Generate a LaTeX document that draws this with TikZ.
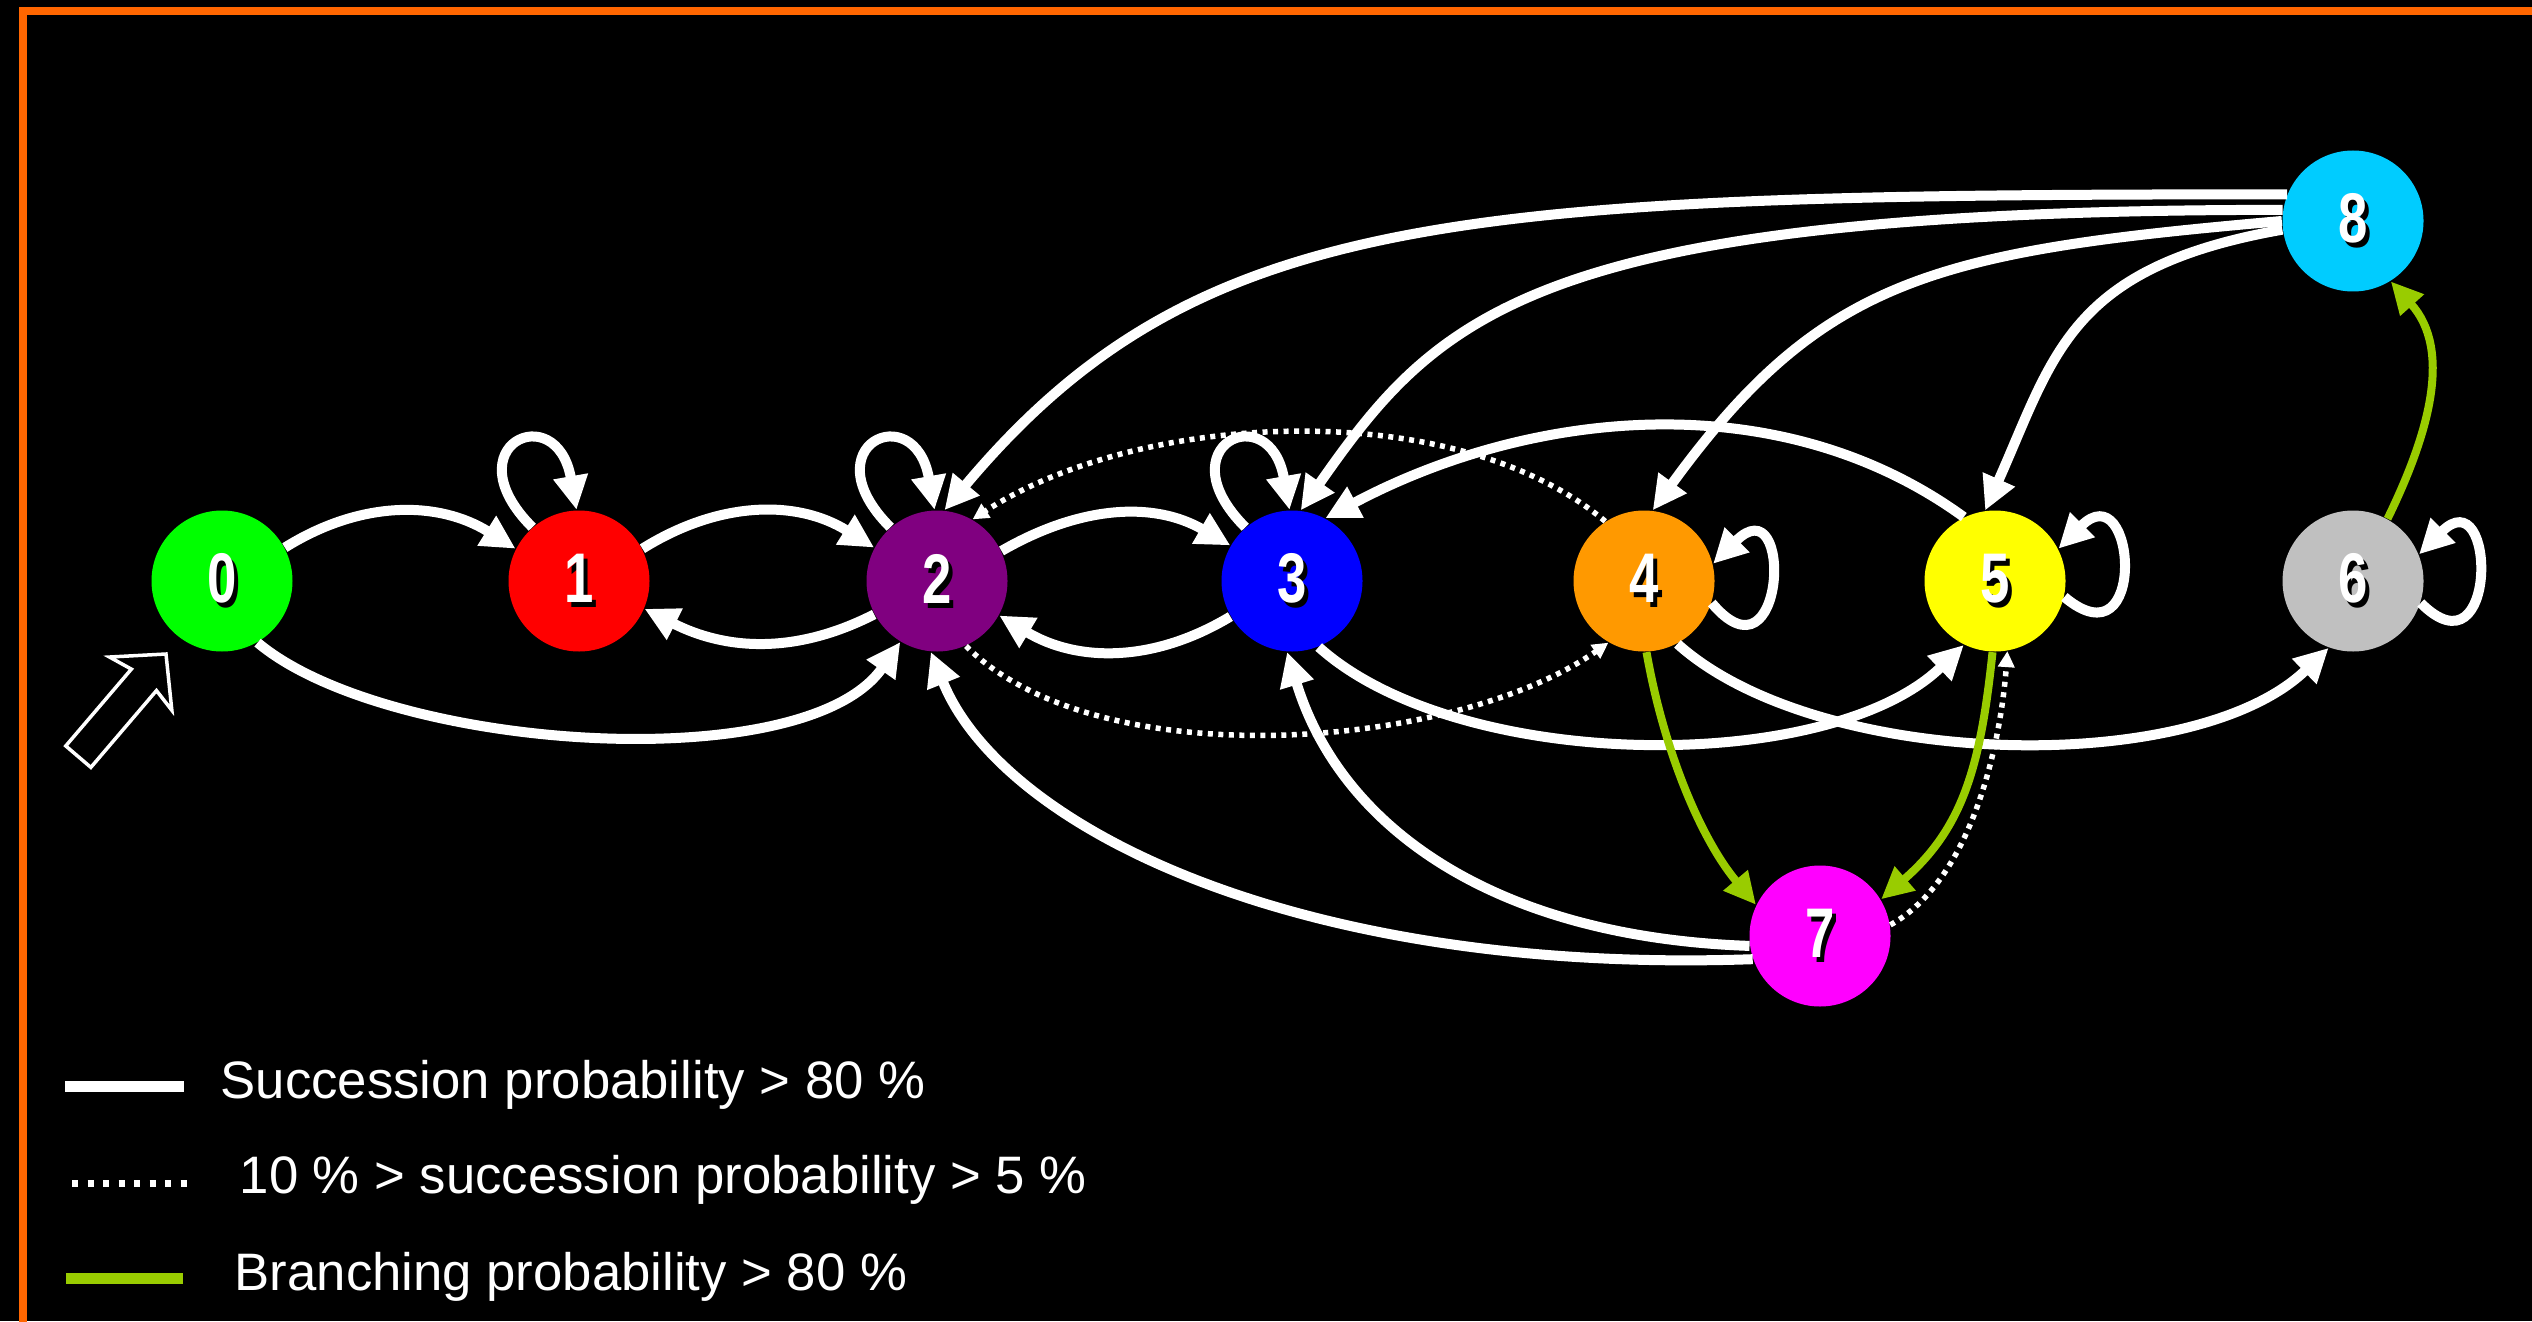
\documentclass[tikz,border=0pt]{standalone}
\usepackage{fontspec}
\setmainfont{Liberation Sans}
\usepackage{graphicx}
\usetikzlibrary{arrows.meta}
\definecolor{frameorange}{HTML}{FF6600}
\definecolor{branchgreen}{HTML}{99CC00}
\definecolor{szero}{HTML}{00FF00}
\definecolor{sone}{HTML}{FF0000}
\definecolor{stwo}{HTML}{800080}
\definecolor{sthree}{HTML}{0000FF}
\definecolor{sfour}{HTML}{FF9900}
\definecolor{sfive}{HTML}{FFFF00}
\definecolor{ssix}{HTML}{C0C0C0}
\definecolor{sseven}{HTML}{FF00FF}
\definecolor{seight}{HTML}{00CCFF}
\newcommand{\statelabel}[1]{\scalebox{0.75}[1]{\fontsize{20}{20}\selectfont\bfseries\rlap{\hspace{0.05cm}\raisebox{-0.05cm}{\color{black}#1}}#1}}

\begin{document}
\begin{tikzpicture}[
    state/.style={circle, minimum size=1.41cm, inner sep=0pt, text=white},
    succ/.style={white, line width=0.1cm, -{Triangle[length=0.34cm,width=0.33cm]}},
    rare/.style={white, line width=0.055cm, dash pattern=on 0.05cm off 0.055cm, -{Triangle[length=0.16cm,width=0.16cm]}},
    branch/.style={branchgreen, line width=0.08cm, -{Triangle[length=0.32cm,width=0.30cm]}},
    legendtext/.style={anchor=base west, inner sep=0pt, text=white, font=\fontsize{15}{18}\selectfont}]
                \useasboundingbox (0,0) rectangle (25.32,13.21);
                \fill[black] (0,0) rectangle (25.32,13.21);
                \draw[frameorange, line width=0.08cm] (0.23,-0.1) -- (0.23,13.095) -- (25.42,13.095);

                \node[state, fill=szero] (n0) at (2.22,7.40) {\statelabel{0}};
                \node[state, fill=sone] (n1) at (5.79,7.40) {\statelabel{1}};
                \node[state, fill=stwo] (n2) at (9.37,7.40) {\statelabel{2}};
                \node[state, fill=sthree] (n3) at (12.92,7.40) {\statelabel{3}};
                \node[state, fill=sfour] (n4) at (16.44,7.40) {\statelabel{4}};
                \node[state, fill=sfive] (n5) at (19.95,7.40) {\statelabel{5}};
                \node[state, fill=ssix] (n6) at (23.53,7.40) {\statelabel{6}};
                \node[state, fill=sseven] (n7) at (18.20,3.85) {\statelabel{7}};
                \node[state, fill=seight] (n8) at (23.53,11.00) {\statelabel{8}};

                \draw[succ] (n0.28) to[out=32,in=148] (n1.153);
                \draw[succ] (n0.-60) to[out=-40,in=-125,distance=1.68cm] (n2.-121);
                \draw[succ] (n1.131) to[out=135,in=100,distance=1.15cm] (n1.92);
                \draw[succ] (n1.27) to[out=32,in=148] (n2.152);
                \draw[succ] (n2.208) to[out=-153,in=-27] (n1.-23);
                \draw[succ] (n2.131) to[out=135,in=100,distance=1.15cm] (n2.92);
                \draw[succ] (n2.25) to[out=30,in=150] (n3.150);
                \draw[succ] (n3.210) to[out=-149,in=-31] (n2.-29);
                \draw[succ] (n3.131) to[out=135,in=100,distance=1.15cm] (n3.92);
                \draw[succ] (n3.-68) to[out=-42,in=-136,distance=1.88cm] (n5.-116);
                \draw[succ] (n5.116) to[out=144,in=28,distance=2.3cm] (n3.62);
                \draw[succ] (n4.-18) to[out=-50,in=45,distance=1.15cm] (n4.14);
                \draw[succ] (n4.-62) to[out=-42,in=-136,distance=1.88cm] (n6.-110);
                \draw[succ] (n5.-13) to[out=-40,in=45,distance=1.1cm] (n5.27);
                \draw[succ] (n6.-18) to[out=-45,in=45,distance=1.1cm] (n6.22);
                \draw[succ] (n7.188) to[out=178,in=-73,out distance=2.6cm,in distance=1.8cm] (n3.-94);
                \draw[succ] (n7.199) to[out=182,in=-68,out distance=4.54cm,in distance=1.9cm] (n2.-95);
                \draw[succ] (n8.158) to[out=180,in=50,out distance=8.27cm,in distance=3.95cm] (n2.84);
                \draw[succ] (n8.171) to[out=180,in=55,out distance=7.5cm,in distance=2.4cm] (n3.83);
                \draw[succ] (n8.180) to[out=185,in=54,out distance=3.47cm,in distance=2.89cm] (n4.83);
                \draw[succ] (n8.187) to[out=190,in=66,out distance=2.17cm,in distance=1.71cm] (n5.98);
                \draw[rare] (n2.-66) to[out=-45,in=-145,distance=1.87cm] (n4.-120);
                \draw[rare] (n4.123) to[out=140,in=33,distance=1.98cm] (n2.60);
                \draw[rare] (n7.9) to[out=29,in=-94,out distance=0.95cm,in distance=0.88cm] (n5.-80);
                \draw[branch] (n4.-88) to[out=-80,in=130,out distance=1.03cm,in distance=0.84cm] (n7.154);
                \draw[branch] (n5.-92) to[out=264,in=41,out distance=1.14cm,in distance=1.09cm] (n7.31);
                \draw[branch] (n6.61) to[out=64,in=-48,distance=0.93cm] (n8.-58);

                \begin{scope}[shift={(1.66,6.67)}, rotate=49.5]
                    \draw[white, line width=0.035cm] (0,0) -- (-0.39,0.41) -- (-0.34,0.165) -- (-1.35,0.165)
                        -- (-1.35,-0.165) -- (-0.34,-0.165) -- (-0.39,-0.41) -- cycle;
                \end{scope}

                \draw[white, line width=0.11cm] (0.65,2.35) -- (1.84,2.35);
                \draw[white, line width=0.07cm, dash pattern=on 0.06cm off 0.095cm] (0.72,1.38) -- (1.88,1.38);
                \draw[branchgreen, line width=0.11cm] (0.66,0.43) -- (1.83,0.43);
                \node[legendtext] (lsucc) at (2.20,2.23) {Succession probability > 80 \%};
                \node[legendtext] (lrare) at (2.39,1.28) {10 \% > succession probability > 5 \%};
                \node[legendtext] (lbranch) at (2.34,0.31) {Branching probability > 80 \%};
            \end{tikzpicture}
\end{document}
